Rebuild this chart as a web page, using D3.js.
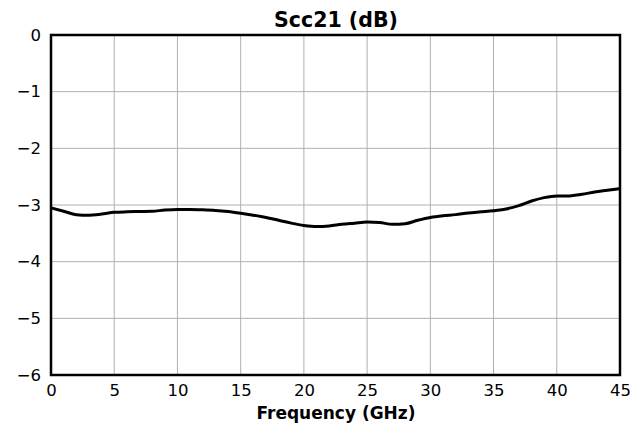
<!DOCTYPE html>
<html>
<head>
<meta charset="utf-8">
<script src="https://cdn.jsdelivr.net/npm/d3@7"></script>
<style>
  body { margin: 0; background: #fff; }
  svg text { font-family: "DejaVu Sans", sans-serif; }
</style>
</head>
<body>
<svg id="chart" width="630" height="426"></svg>
<script>
// Differential-to-common insertion loss, 1 GHz steps
const freqGHz = d3.range(0, 46, 1);
const scc21dB = [
  -3.05, -3.11, -3.17, -3.18, -3.16, -3.13, -3.12, -3.115, -3.11, -3.09,
  -3.08, -3.08, -3.085, -3.095, -3.115, -3.145, -3.18, -3.22, -3.27, -3.32,
  -3.36, -3.38, -3.37, -3.34, -3.32, -3.30, -3.31, -3.34, -3.33, -3.27,
  -3.22, -3.19, -3.17, -3.14, -3.12, -3.10, -3.07, -3.01, -2.93, -2.87,
  -2.84, -2.84, -2.81, -2.77, -2.74, -2.71
];
const xTicks = [0, 5, 10, 15, 20, 25, 30, 35, 40, 45];
const yTicks = [0, -1, -2, -3, -4, -5, -6];

const svg = d3.select("#chart");
const plotL = 51, plotR = 620, plotT = 35, plotB = 375;

const x = d3.scaleLinear().domain([0, 45]).range([plotL, plotR]);
const y = d3.scaleLinear().domain([-6, 0]).range([plotB, plotT]);

// grid
svg.append("g").selectAll("line").data(xTicks).join("line")
  .attr("x1", d => x(d)).attr("x2", d => x(d))
  .attr("y1", plotT).attr("y2", plotB)
  .attr("stroke", "#b0b0b0").attr("stroke-width", 1);
svg.append("g").selectAll("line").data(yTicks).join("line")
  .attr("x1", plotL).attr("x2", plotR)
  .attr("y1", d => y(d)).attr("y2", d => y(d))
  .attr("stroke", "#b0b0b0").attr("stroke-width", 1);

// curve
const line = d3.line().x((d, i) => x(freqGHz[i])).y(d => y(d)).curve(d3.curveMonotoneX);
svg.append("path").datum(scc21dB)
  .attr("d", line).attr("fill", "none")
  .attr("stroke", "#000").attr("stroke-width", 3)
  .attr("stroke-linejoin", "round");

// axes
const xAxis = d3.axisBottom(x).tickValues(xTicks).tickSize(0).tickPadding(9)
  .tickFormat(d3.format("d"));
const yAxis = d3.axisLeft(y).tickValues(yTicks).tickSize(0).tickPadding(10)
  .tickFormat(d => d < 0 ? "\u2212" + Math.abs(d) : String(d));

const gx = svg.append("g").attr("transform", `translate(0,${plotB})`).call(xAxis);
const gy = svg.append("g").attr("transform", `translate(${plotL},0)`).call(yAxis);
[gx, gy].forEach(g => {
  g.select(".domain").remove();
  g.selectAll("text").attr("font-size", 16.5).attr("fill", "#000")
    .style("font-family", "'DejaVu Sans', sans-serif");
});

// frame
svg.append("rect").attr("x", plotL).attr("y", plotT)
  .attr("width", plotR - plotL).attr("height", plotB - plotT)
  .attr("fill", "none").attr("stroke", "#000").attr("stroke-width", 2.5);

// labels
svg.append("text").attr("x", 336).attr("y", 27)
  .attr("text-anchor", "middle").attr("font-size", 20.5).attr("font-weight", "bold")
  .text("Scc21 (dB)");
svg.append("text").attr("x", 336).attr("y", 419)
  .attr("text-anchor", "middle").attr("font-size", 17).attr("font-weight", "bold")
  .text("Frequency (GHz)");
</script>
</body>
</html>
